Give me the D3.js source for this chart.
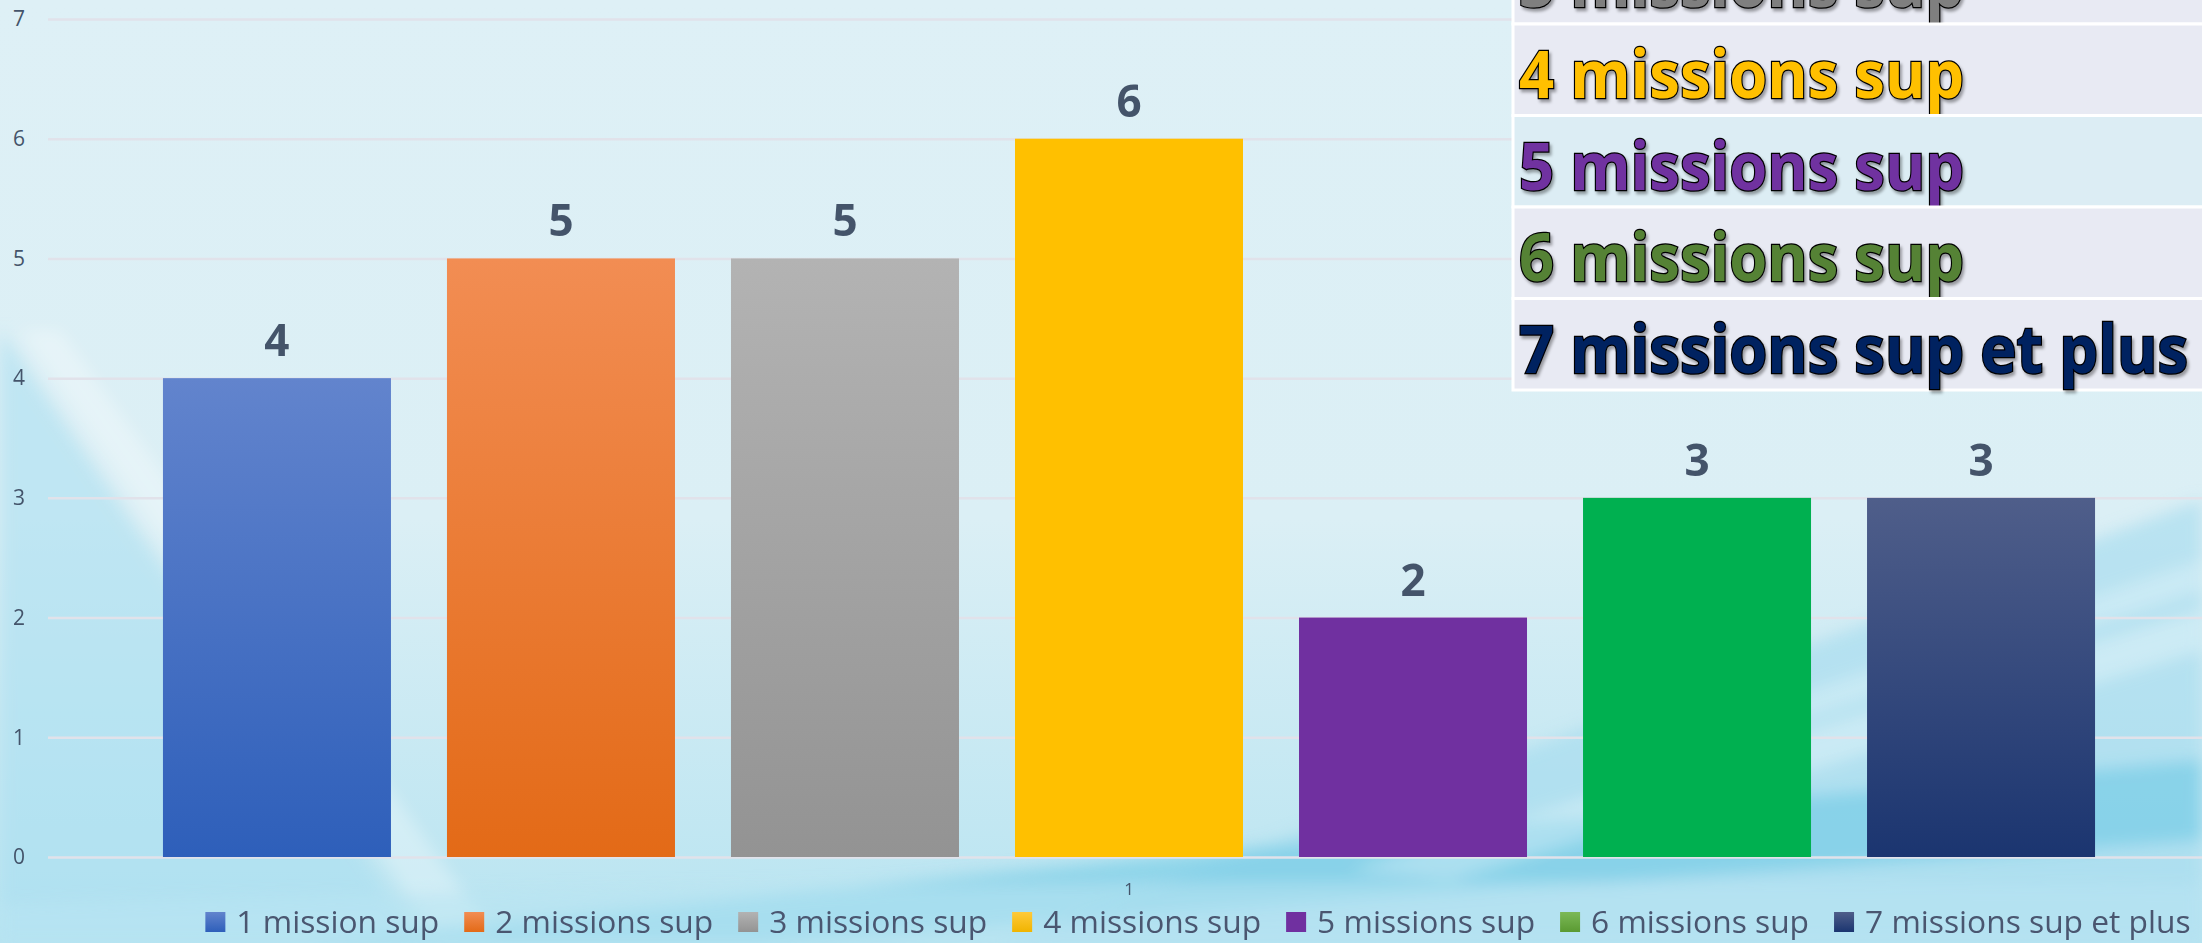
<!DOCTYPE html>
<html>
<head>
<meta charset="utf-8">
<script src="https://cdn.jsdelivr.net/npm/d3@7"></script>
<style>
  html, body { margin: 0; padding: 0; background: #ddeff5; overflow: hidden; }
  svg { display: block; }
</style>
</head>
<body>
<div id="chart"></div>
<script>
//          Chart data
var categories = ["1"];
var seriesNames = ["1 mission sup", "2 missions sup", "3 missions sup", "4 missions sup",
                   "5 missions sup", "6 missions sup", "7 missions sup et plus"];
var seriesValues = [4, 5, 5, 6, 2, 3, 3];
var yTicks = [0, 1, 2, 3, 4, 5, 6, 7];

//          Colours (top / bottom of each bar gradient)
var barTop    = ["#6284cd", "#f28d53", "#b3b3b3", "#ffc000", "#7030a0", "#00b050", "#4f5e8a"];
var barBottom = ["#2e5fba", "#e36a17", "#939393", "#ffc000", "#7030a0", "#00b050", "#1b3570"];
var legendTop    = ["#6284cd", "#f28d53", "#b3b3b3", "#ffca3a", "#7030a0", "#7cb957", "#4f5e8a"];
var legendBottom = ["#2e5fba", "#e36a17", "#939393", "#f0b400", "#7030a0", "#5a9a32", "#1b3570"];
var tableText = ["#4472c4", "#ed7d31", "#7f7f7f", "#ffc000", "#7030a0", "#548235", "#002060"];

var W = 2202, H = 943;
var textColor = "#44546a";
var font = "'Open Sans', 'DejaVu Sans', sans-serif";

var svg = d3.select("#chart").append("svg")
    .attr("width", W)
    .attr("height", H);

var defs = svg.append("defs");

//          Background
var bg = defs.append("linearGradient").attr("id", "bg")
    .attr("x1", 0).attr("y1", 0).attr("x2", 0).attr("y2", 1);
bg.append("stop").attr("offset", "0").attr("stop-color", "#def0f6");
bg.append("stop").attr("offset", "0.55").attr("stop-color", "#dbeff5");
bg.append("stop").attr("offset", "1").attr("stop-color", "#b8e4f1");

defs.append("filter").attr("id", "blur").attr("x", "-20%").attr("y", "-20%")
    .attr("width", "140%").attr("height", "140%")
    .append("feGaussianBlur").attr("stdDeviation", 8);

svg.append("rect").attr("width", W).attr("height", H).attr("fill", "url(#bg)");

var deco = svg.append("g").attr("filter", "url(#blur)");
deco.append("path").attr("d", "M0,330 L0,943 L420,943 Z")
    .attr("fill", "#a8def0").attr("opacity", 0.55);
deco.append("path").attr("d", "M20,330 L60,330 L500,943 L440,943 Z")
    .attr("fill", "#ffffff").attr("opacity", 0.3);
deco.append("path").attr("d", "M1000,943 L2202,500 L2202,943 Z")
    .attr("fill", "#a4dbee").attr("opacity", 0.6);
deco.append("path").attr("d", "M300,943 Q1200,850 2202,760 L2202,840 Q1300,905 760,943 Z")
    .attr("fill", "#6ecae5").attr("opacity", 0.6);
deco.append("path").attr("d", "M1350,870 L2202,610 L2202,650 L1450,880 Z")
    .attr("fill", "#ffffff").attr("opacity", 0.3);
deco.append("path").attr("d", "M1600,760 L2202,560 L2202,590 L1650,770 Z")
    .attr("fill", "#ffffff").attr("opacity", 0.25);
deco.append("path").attr("d", "M0,905 Q900,875 2202,885 L2202,943 L0,943 Z")
    .attr("fill", "#b9e5f2").attr("opacity", 0.6);

//          Scales
var plotLeft = 48, plotRight = 2210;
var y = d3.scaleLinear().domain([0, 7]).range([857, 19]);
var x0 = d3.scaleBand().domain(categories).range([plotLeft, plotRight])
    .paddingInner(0).paddingOuter(0.0595);
var x1 = d3.scaleBand().domain(seriesNames).range([0, x0.bandwidth()])
    .paddingInner(56 / 284).paddingOuter(0);

//          Gridlines + y labels
var yAxis = svg.append("g")
    .attr("transform", "translate(" + plotLeft + ",0)")
    .call(d3.axisLeft(y).tickValues(yTicks).tickFormat(d3.format("d"))
        .tickSize(-(W - plotLeft)).tickPadding(23));
yAxis.select(".domain").remove();
yAxis.selectAll("line").attr("stroke", "#e1e2ea").attr("stroke-width", 2.5);
yAxis.selectAll("text")
    .attr("fill", textColor)
    .style("font-family", font)
    .style("font-size", "21px");

//          Bar gradients
seriesNames.forEach(function(s, i) {
    var g = defs.append("linearGradient").attr("id", "bar" + i)
        .attr("x1", 0).attr("y1", 0).attr("x2", 0).attr("y2", 1);
    g.append("stop").attr("offset", "0").attr("stop-color", barTop[i]);
    g.append("stop").attr("offset", "1").attr("stop-color", barBottom[i]);
    var l = defs.append("linearGradient").attr("id", "leg" + i)
        .attr("x1", 0).attr("y1", 0).attr("x2", 0).attr("y2", 1);
    l.append("stop").attr("offset", "0").attr("stop-color", legendTop[i]);
    l.append("stop").attr("offset", "1").attr("stop-color", legendBottom[i]);
});

//          Bars
var barData = seriesNames.map(function(s, i) { return {name: s, value: seriesValues[i], i: i}; });
var group = svg.append("g").attr("transform", "translate(" + x0(categories[0]) + ",0)");

group.selectAll("rect.bar").data(barData).enter().append("rect")
    .attr("class", "bar")
    .attr("x", function(d) { return x1(d.name); })
    .attr("y", function(d) { return y(d.value); })
    .attr("width", x1.bandwidth())
    .attr("height", function(d) { return y(0) - y(d.value); })
    .attr("fill", function(d) { return "url(#bar" + d.i + ")"; });

//          Data labels
group.selectAll("text.value").data(barData).enter().append("text")
    .attr("class", "value")
    .attr("x", function(d) { return x1(d.name) + x1.bandwidth() / 2; })
    .attr("y", function(d) { return y(d.value) - 22; })
    .attr("text-anchor", "middle")
    .attr("fill", textColor)
    .style("font-family", font)
    .style("font-weight", 700)
    .style("font-size", "44px")
    .text(function(d) { return d.value; });

//          Category label
svg.append("text")
    .attr("x", x0(categories[0]) + x0.bandwidth() / 2)
    .attr("y", 895)
    .attr("text-anchor", "middle")
    .attr("fill", textColor)
    .style("font-family", font)
    .style("font-size", "17px")
    .text(categories[0]);

//          Legend
var legend = svg.append("g");
var items = legend.selectAll("g").data(barData).enter().append("g");
var legText = items.append("text")
    .attr("fill", "#4a5670")
    .style("font-family", font)
    .style("font-size", "31px")
    .text(function(d) { return d.name; });

// fit font so the legend spans the same width as the picture
var natural = 0;
legText.each(function() { natural += this.getComputedTextLength(); });
var markerW = 20, markerGap = 11, itemGap = 25, legendWidth = 1986;
var fs = 31 * (legendWidth - seriesNames.length * (markerW + markerGap) - (seriesNames.length - 1) * itemGap) / natural;
legText.style("font-size", fs + "px");

var cursor = 0;
items.each(function(d) {
    var it = d3.select(this);
    var tw = it.select("text").node().getComputedTextLength();
    it.attr("transform", "translate(" + cursor + ",0)");
    it.append("rect")
        .attr("x", 0).attr("y", -21)
        .attr("width", markerW).attr("height", markerW)
        .attr("fill", "url(#leg" + d.i + ")");
    it.select("text").attr("x", markerW + markerGap);
    cursor += markerW + markerGap + tw + itemGap;
});
cursor -= itemGap;
legend.attr("transform", "translate(" + (1198 - cursor / 2) + ",933)");

//          Overlay table (top right) - scrolled so that only the lower rows show
defs.append("filter").attr("id", "shadow")
    .append("feDropShadow").attr("dx", 2).attr("dy", 3).attr("stdDeviation", 1.5)
    .attr("flood-color", "#000").attr("flood-opacity", 0.35);

var tableLeft = 1513, rowH = 91.5, rowStart = 24 - 3 * 91.5;
var visibleRows = barData.filter(function(d) { return rowStart + (d.i + 1) * rowH > 0; });
var table = svg.append("g");
var rows = table.selectAll("g").data(visibleRows).enter().append("g")
    .attr("transform", function(d) { return "translate(" + tableLeft + "," + (rowStart + d.i * rowH) + ")"; });

rows.append("rect")
    .attr("width", W - tableLeft + 10)
    .attr("height", rowH)
    .attr("fill", function(d) { return d.i === 4 ? "#dcedf4" : "#e8eaf3"; })
    .attr("stroke", "#ffffff")
    .attr("stroke-width", 3);

var rowText = rows.append("text")
    .attr("x", 6)
    .attr("y", 74)
    .attr("fill", function(d) { return tableText[d.i]; })
    .attr("stroke", "#000")
    .attr("stroke-width", 2.5)
    .attr("paint-order", "stroke")
    .attr("filter", "url(#shadow)")
    .style("font-family", font)
    .style("font-weight", 700)
    .style("font-size", "67px")
    .text(function(d) { return d.name; });

var lastW = rowText.filter(function(d) { return d.i === 6; }).node().getComputedTextLength();
var squeeze = 669 / lastW;
rowText.each(function() {
    var w = this.getComputedTextLength();
    d3.select(this).attr("textLength", w * squeeze).attr("lengthAdjust", "spacingAndGlyphs");
});
</script>
</body>
</html>
